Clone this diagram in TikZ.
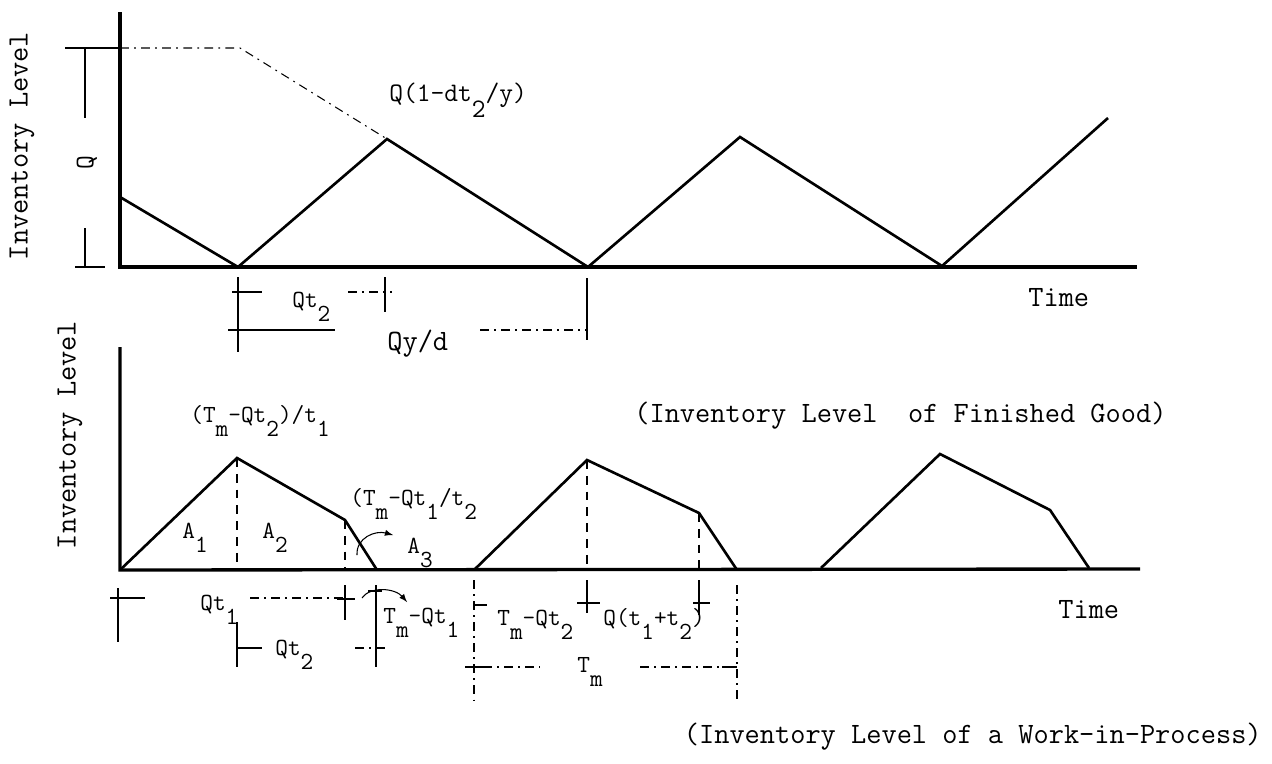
\documentclass[tikz,border=0pt]{standalone}
\usepackage{fontspec}
\usepackage{tikz}
\usetikzlibrary{arrows}

\newcommand{\bigtt}{\fontsize{16.8}{20}\selectfont\ttfamily}
\newcommand{\midtt}{\fontsize{15.2}{18}\selectfont\ttfamily}
\newcommand{\smalltt}{\fontsize{14}{16}\selectfont\ttfamily}
\newcommand{\sublo}[1]{\raisebox{-0.6em}{#1}}

\begin{document}
\begin{tikzpicture}[x=0.2mm, y=-0.2mm, >=latex,
    axis/.style={line width=1.9pt},
    curve/.style={line width=1.5pt, line join=miter},
    dim/.style={line width=0.6pt},
    dimdash/.style={line width=0.6pt, dash pattern=on 5pt off 3pt on 1pt off 3pt},
    guide/.style={line width=0.8pt, dash pattern=on 5pt off 4pt},
    lbl/.style={font=\bigtt, inner sep=0pt},
    sml/.style={font=\smalltt, inner sep=0pt}]
  \useasboundingbox (0,0) rectangle (1272,763);

  % Define positions (finished good)
  \coordinate (o1) at (120,267);
  \coordinate (ytop1) at (120,12);
  \coordinate (xend1) at (1137,267);
  \coordinate (s0) at (120,197);
  \coordinate (s1) at (238,267);
  \coordinate (s2) at (387,139);
  \coordinate (s3) at (588,267);
  \coordinate (s4) at (740,137);
  \coordinate (s5) at (942,266);
  \coordinate (s6) at (1108,118);

  % Define positions (work-in-process)
  \coordinate (o2) at (120,570);
  \coordinate (ytop2) at (120,347);
  \coordinate (xend2) at (1140,569);
  \coordinate (a1) at (237,458);
  \coordinate (a2) at (345,520);
  \coordinate (a3) at (377,570);
  \coordinate (b0) at (474,570);
  \coordinate (b1) at (587,460);
  \coordinate (b2) at (699,513);
  \coordinate (b3) at (737,570);
  \coordinate (c0) at (821,568);
  \coordinate (c1) at (940,454);
  \coordinate (c2) at (1050,510);
  \coordinate (c3) at (1089,568);

  % Axes
  \draw[axis] (ytop1) -- (o1) -- (xend1);
  \draw[axis] (ytop2) -- (o2) -- (xend2);

  % Inventory curves
  \draw[curve] (s0) -- (s1) -- (s2) -- (s3) -- (s4) -- (s5) -- (s6);
  \draw[curve] (o2) -- (a1) -- (a2) -- (a3);
  \draw[curve] (b0) -- (b1) -- (b2) -- (b3);
  \draw[curve] (c0) -- (c1) -- (c2) -- (c3);

  % Labels (finished good)
  \node (ylab1) [lbl, rotate=90] at (22,146) {Inventory Level};
  \node (qlab) [font=\midtt, inner sep=0pt, rotate=90] at (87,163) {Q};
  \node (peaklab) [font=\midtt, inner sep=0pt, anchor=base west] at (389,101) {Q(1-dt\sublo{2}/y)};
  \node (time1) [lbl, anchor=base west] at (1028,306) {Time};
  \node (qt2top) [sml, anchor=base west] at (292,307) {Qt\sublo{2}};
  \node (qyd) [lbl, anchor=base west] at (387,350) {Qy/d};
  \node (cap1) [lbl, anchor=base west] at (634,422) {(Inventory Level\ \ of Finished Good)};

  % Labels (work-in-process)
  \node (ylab2) [lbl, rotate=90] at (70,435) {Inventory Level};
  \node (peak2) [sml, anchor=base west] at (190,422) {(T\sublo{m}-Qt\sublo{2})/t\sublo{1}};
  \node (knee) [sml, anchor=base west] at (350,505) {(T\sublo{m}-Qt\sublo{1}/t\sublo{2}};
  \node (A1) [sml, anchor=base west] at (182,538) {A\sublo{1}};
  \node (A2) [sml, anchor=base west] at (262,538) {A\sublo{2}};
  \node (A3) [sml, anchor=base west] at (407,553) {A\sublo{3}};
  \node (qt1) [sml, anchor=base west] at (200,610) {Qt\sublo{1}};
  \node (qt2) [sml, anchor=base west] at (275,655) {Qt\sublo{2}};
  \node (tmqt1) [sml, anchor=base west] at (383,623) {T\sublo{m}-Qt\sublo{1}};
  \node (tmqt2) [sml, anchor=base west] at (497,625) {T\sublo{m}-Qt\sublo{2}};
  \node (qsum) [sml, anchor=base west] at (603,625) {Q(t\sublo{1}+t\sublo{2})};
  \node (tm) [sml, anchor=base west] at (577,672) {T\sublo{m}};
  \node (time2) [lbl, anchor=base west] at (1058,618) {Time};
  \node (cap2) [lbl, anchor=base east] at (1262,743) {(Inventory Level of a Work-in-Process)};

  % Dimension lines (finished good)
  \draw[dim] (65,48) -- (120,48);
  \draw[dim] (85,48) -- (85,118);
  \draw[dim] (85,228) -- (85,267);
  \draw[dim] (75,267) -- (105,267);
  \draw[dimdash] (120,48) -- (240,48) -- (s2);
  \draw[dim] (238,277) -- (238,352);
  \draw[dim] (232,292) -- (262,292);
  \draw[dimdash] (348,292) -- (392,292);
  \draw[dim] (385,277) -- (385,312);
  \draw[dim] (228,330) -- (335,330);
  \draw[dimdash] (480,330) -- (587,330);
  \draw[dim] (587,278) -- (587,340);

  % Dimension lines (work-in-process)
  \draw[guide] (a1) -- (a1 |- o2);
  \draw[guide] (a2) -- (a2 |- o2);
  \draw[guide] (b1) -- (b1 |- o2);
  \draw[guide] (b2) -- (b2 |- o2);
  \draw[dim] (118,588) -- (118,642);
  \draw[dim] (110,598) -- (145,598);
  \draw[dimdash] (250,598) -- (345,598);
  \draw[dim] (345,585) -- (345,620);
  \draw[dim] (337,599) -- (355,599);
  \draw[dim] (237,622) -- (237,667);
  \draw[dim] (237,648) -- (262,648);
  \draw[dimdash] (355,648) -- (385,648);
  \draw[dim] (376,585) -- (376,667);
  \draw[dim] (368,591) -- (382,591);
  \draw[dim] (474,605) -- (487,605);
  \draw[dim] (587,580) -- (587,613);
  \draw[dim] (577,603) -- (600,603);
  \draw[dim] (699,580) -- (699,615);
  \draw[dim] (693,603) -- (710,603);
  \draw[dimdash] (474,580) -- (474,700);
  \draw[dim] (465,667) -- (483,667);
  \draw[dimdash] (483,667) -- (540,667);
  \draw[dimdash] (640,667) -- (722,667);
  \draw[dim] (722,667) -- (737,667);
  \draw[dimdash] (737,585) -- (737,700);

  % Arrows
  \draw[->, dim] (357,555) .. controls (356,538) and (375,530) .. (393,535);
  \draw[->, dim] (362,598) .. controls (370,586) and (395,588) .. (407,602);
\end{tikzpicture}
\end{document}
